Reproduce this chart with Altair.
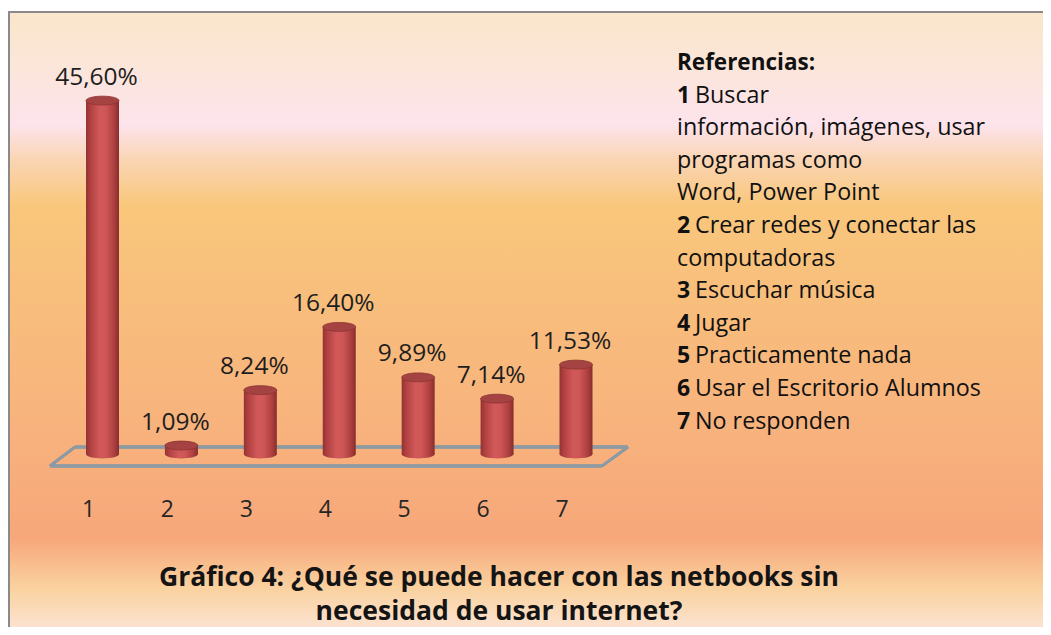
import altair as alt
import pandas as pd

# ---- data ----
categories = ["1", "2", "3", "4", "5", "6", "7"]
values = [45.60, 1.09, 8.24, 16.40, 9.89, 7.14, 11.53]
value_labels = ["45,60%", "1,09%", "8,24%", "16,40%", "9,89%", "7,14%", "11,53%"]

legend_header = "Referencias:"
legend_nums = ["1", "", "", "", "2", "", "3", "4", "5", "6", "7"]
legend_texts = ["Buscar", "información, imágenes, usar", "programas como",
                "Word, Power Point", "Crear redes y conectar las", "computadoras",
                "Escuchar música", "Jugar", "Practicamente nada",
                "Usar el Escritorio Alumnos", "No responden"]

title_lines = ["Gráfico 4: ¿Qué se puede hacer con las netbooks sin",
               "necesidad de usar internet?"]

W, H = 1035, 619
FONT = "Open Sans"

bars_df = pd.DataFrame({"cat": categories, "val": values, "lab": value_labels})
leg_df = pd.DataFrame({"num": legend_nums, "txt": legend_texts})
title_df = pd.DataFrame({"t": title_lines})

xs = alt.Scale(type="point", domain=categories, range=[94.5, 568], padding=0)
ys = alt.Scale(domain=[0, 50], range=[446, 58.5], nice=False, zero=True)
X = alt.X("cat:N", scale=xs, axis=None)
Y = alt.Y("val:Q", scale=ys, axis=None)

bg_grad = {
    "gradient": "linear", "x1": 0, "x2": 0, "y1": 0, "y2": 1,
    "stops": [
        {"offset": 0.0, "color": "#FAE6CB"},
        {"offset": 0.08, "color": "#FBE6D8"},
        {"offset": 0.18, "color": "#FDE3EC"},
        {"offset": 0.236, "color": "#FAD5B4"},
        {"offset": 0.308, "color": "#F9C77C"},
        {"offset": 0.46, "color": "#F8BE7C"},
        {"offset": 0.652, "color": "#F8B37D"},
        {"offset": 0.842, "color": "#F7A77A"},
        {"offset": 0.923, "color": "#FAD2A0"},
        {"offset": 1.0, "color": "#FCE6DC"},
    ],
}

cyl_grad = {
    "gradient": "linear", "x1": 0, "x2": 1, "y1": 0, "y2": 0,
    "stops": [
        {"offset": 0.0, "color": "#943232"},
        {"offset": 0.15, "color": "#B34242"},
        {"offset": 0.42, "color": "#D25959"},
        {"offset": 0.6, "color": "#CF5656"},
        {"offset": 0.85, "color": "#AE4040"},
        {"offset": 1.0, "color": "#8A2C2C"},
    ],
}

ELLIPSE = "M -1 0 A 1 0.27 0 1 0 1 0 A 1 0.27 0 1 0 -1 0 Z"
CYL_W = 33

background = alt.Chart(bars_df).mark_rect(
    fill=bg_grad, stroke="#8A8A8A", strokeWidth=2
).encode(x=alt.value(1), x2=alt.value(W + 10), y=alt.value(4), y2=alt.value(H + 10))

floor_color = "#8D9AA4"
def seg(x1, y1, x2, y2):
    return alt.Chart(bars_df).mark_rule(color=floor_color, strokeWidth=2.5).encode(
        x=alt.value(x1), y=alt.value(y1), x2=alt.value(x2), y2=alt.value(y2))

floor = [seg(42, 458, 594, 458), seg(594, 458, 620, 439),
         seg(67, 439, 620, 439), seg(42, 458, 67, 439)]

base = alt.Chart(bars_df)
bottom_ell = base.mark_point(shape=ELLIPSE, size=CYL_W ** 2, filled=True,
                             fill=cyl_grad, opacity=1, strokeWidth=0).encode(
    x=X, y=alt.Y("zero:Q", scale=ys, axis=None)).transform_calculate(zero="0")
body = base.mark_bar(width=CYL_W, fill=cyl_grad).encode(x=X, y=Y, y2=alt.datum(0))
top_ell = base.mark_point(shape=ELLIPSE, size=CYL_W ** 2, filled=True,
                          fill="#A54242", stroke="#8C3434", strokeWidth=0.8,
                          opacity=1).encode(x=X, y=Y)
val_text = base.mark_text(font=FONT, fontSize=24.5, color="#1E1E1E", dx=-6, dy=-23,
                          baseline="middle").encode(x=X, y=Y, text="lab:N")
cat_text = base.mark_text(font=FONT, fontSize=23, color="#262626", dx=-14,
                          baseline="middle").encode(x=X, y=alt.value(502), text="cat:N")

leg_header = alt.Chart(pd.DataFrame({"h": [legend_header]})).mark_text(
    font=FONT, fontSize=22.5, fontWeight="bold", color="#111111", align="left",
    baseline="middle").encode(x=alt.value(669), y=alt.value(55), text="h:N")

leg_base = alt.Chart(leg_df).transform_window(row="row_number()").transform_calculate(
    ly="55 + datum.row * 32.6", tx="datum.num == '' ? 669 : 687")
leg_nums = leg_base.mark_text(font=FONT, fontSize=23, fontWeight="bold", color="#111111",
                              align="left", baseline="middle").encode(
    x=alt.value(669), y=alt.Y("ly:Q", scale=None), text="num:N")
leg_txt = leg_base.mark_text(font=FONT, fontSize=23.3, color="#111111",
                             align="left", baseline="middle").encode(
    x=alt.X("tx:Q", scale=None), y=alt.Y("ly:Q", scale=None), text="txt:N")

title = alt.Chart(title_df).transform_window(row="row_number()").transform_calculate(
    ty="536 + datum.row * 34").mark_text(
    font=FONT, fontSize=26.5, fontWeight="bold", color="#141414", align="center",
    baseline="middle").encode(x=alt.value(491), y=alt.Y("ty:Q", scale=None), text="t:N")

chart = alt.layer(
    background, *floor, bottom_ell, body, top_ell, val_text, cat_text,
    leg_header, leg_nums, leg_txt, title
).resolve_scale(x="independent", y="independent").properties(
    width=W, height=H, autosize=alt.AutoSizeParams(type="none"), padding=0
).configure_view(stroke=None)

chart.save("out.html", embed_options={"renderer": "svg", "actions": False})
